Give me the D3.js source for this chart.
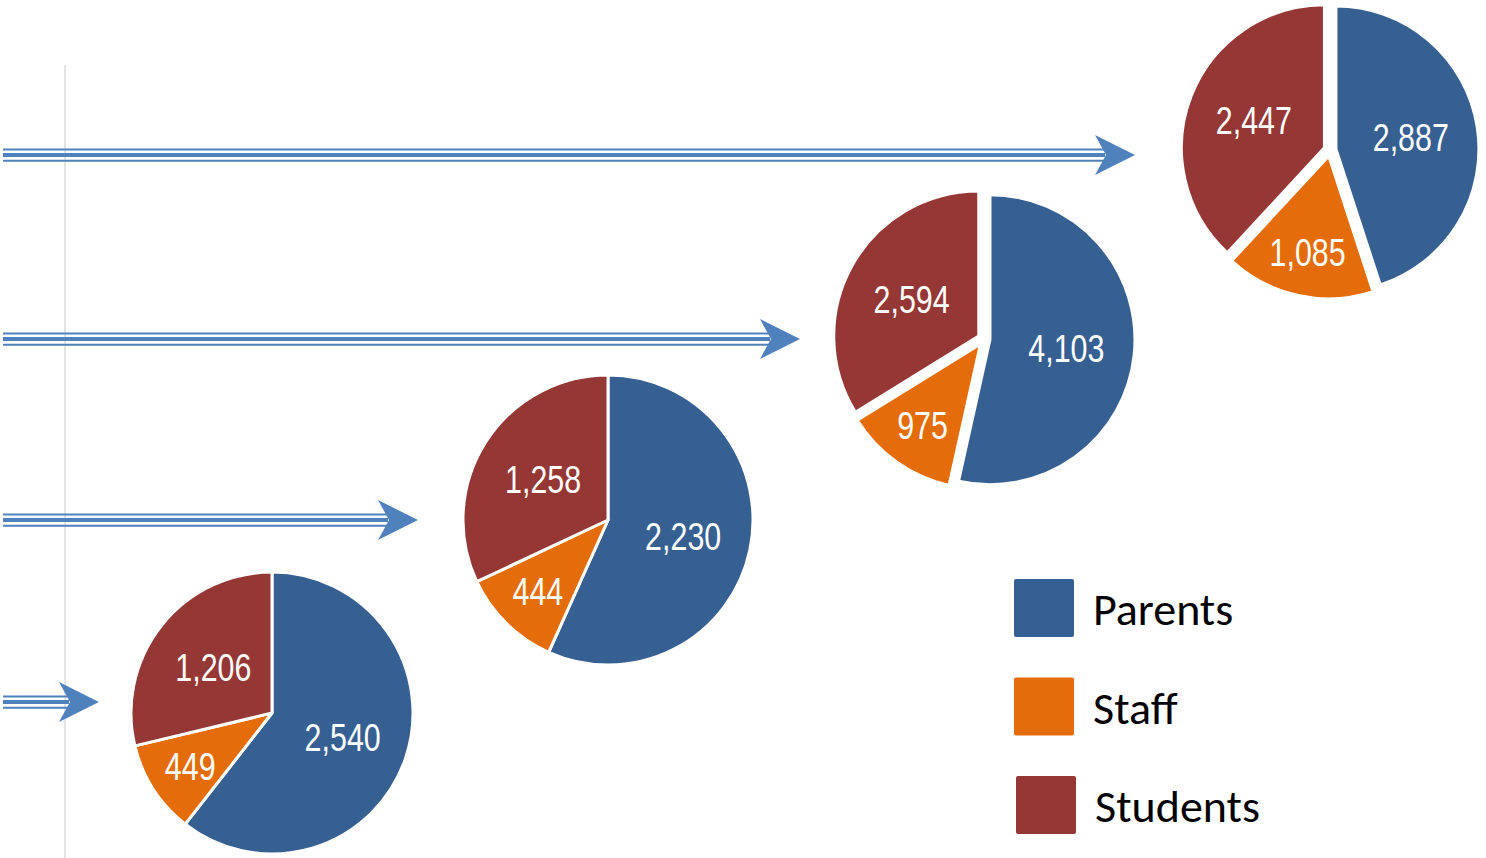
<!DOCTYPE html>
<html>
<head>
<meta charset="utf-8">
<script src="https://cdn.jsdelivr.net/npm/d3@7"></script>
<style>
  html, body { margin: 0; padding: 0; background: #fff; }
  svg { display: block; }
</style>
</head>
<body>
<svg id="chart" width="1486" height="858"></svg>
<script>
// groups shown in the legend, in slice order (clockwise from 12 o'clock)
const groups = ['Parents', 'Staff', 'Students'];
const parents = [2540, 2230, 4103, 2887];
const staff = [449, 444, 975, 1085];
const students = [1206, 1258, 2594, 2447];

const colors = { Parents: '#376092', Staff: '#e46c0a', Students: '#953735' };
const arrowColor = '#4f81bd';

// layout of the four pies, climbing to the right
const pieX = [272, 608, 984, 1330];
const pieY = [713, 520, 339, 150];
const pieR = [141, 145, 145, 143];
const explode = [0, 0, 6, 6];
const arrowY = [702, 520, 339, 155];
const arrowTip = [99, 418, 800, 1135];

const svg = d3.select('#chart');
const fmt = d3.format(',');

// faint vertical rule on the left
svg.append('line')
  .attr('x1', 65).attr('x2', 65)
  .attr('y1', 65).attr('y2', 858)
  .attr('stroke', '#e3e3e3')
  .attr('stroke-width', 2);

// triple-line arrows
const arrows = svg.append('g').attr('class', 'arrows');
arrowY.forEach((y, i) => {
  let tip = arrowTip[i];
  let g = arrows.append('g');
  [[-5.6, 2], [0, 4.2], [5.8, 2]].forEach(([dy, w]) => {
    g.append('line')
      .attr('x1', 3).attr('x2', tip - 30)
      .attr('y1', y + dy).attr('y2', y + dy)
      .attr('stroke', arrowColor)
      .attr('stroke-width', w);
  });
  g.append('path')
    .attr('d', `M${tip},${y} L${tip - 40},${y - 20} L${tip - 29},${y} L${tip - 40},${y + 20} Z`)
    .attr('fill', arrowColor);
});

const pie = d3.pie().sort(null).value(d => d.value);

parents.forEach((p, i) => {
  let rows = [
    { key: 'Parents', value: p },
    { key: 'Staff', value: staff[i] },
    { key: 'Students', value: students[i] }
  ];
  let total = d3.sum(rows, d => d.value);
  let r = pieR[i];
  let arc = d3.arc().innerRadius(0).outerRadius(r);
  let mid = d => (d.startAngle + d.endAngle) / 2;

  let g = svg.append('g')
    .attr('transform', `translate(${pieX[i]},${pieY[i]})`);

  let slice = g.selectAll('g.slice')
    .data(pie(rows))
    .join('g')
    .attr('class', 'slice')
    .attr('transform', d => {
      let a = mid(d), e = explode[i];
      return `translate(${Math.sin(a) * e},${-Math.cos(a) * e})`;
    });

  slice.append('path')
    .attr('d', arc)
    .attr('fill', d => colors[d.data.key])
    .attr('stroke', '#fff')
    .attr('stroke-width', 3)
    .attr('stroke-linejoin', 'round');

  // narrow labels: Liberation Sans squeezed to Arial Narrow proportions
  slice.append('text')
    .attr('transform', d => {
      let k = d.data.value / total < 0.2 ? 0.69 : 0.53;
      let a = mid(d);
      return `translate(${Math.sin(a) * r * k},${-Math.cos(a) * r * k}) scale(0.78,1)`;
    })
    .attr('text-anchor', 'middle')
    .attr('dy', '0.36em')
    .attr('fill', '#fff')
    .style('font-family', '"Liberation Sans", Arial, sans-serif')
    .style('font-size', '39px')
    .text(d => fmt(d.data.value));
});

// legend
const legend = svg.append('g')
  .attr('transform', 'translate(1014,579)');

const item = legend.selectAll('g')
  .data(groups)
  .join('g')
  .attr('transform', (d, i) => `translate(${i == 2 ? 2 : 0},${i * 98.5})`);

item.append('rect')
  .attr('width', 60).attr('height', 58)
  .attr('rx', 2)
  .attr('fill', d => colors[d]);

item.append('text')
  .attr('x', 79).attr('y', 46)
  .style('font-family', 'Calibri, Carlito, "Open Sans", sans-serif')
  .style('font-size', '46px')
  .attr('fill', '#000')
  .text(d => d);
</script>
</body>
</html>
